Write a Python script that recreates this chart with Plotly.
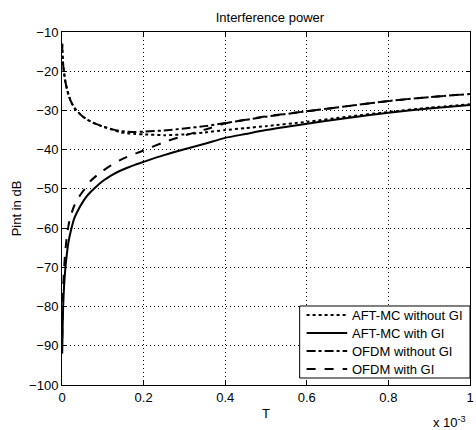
import plotly.graph_objects as go

T = [0.0005, 0.001, 0.002, 0.003, 0.005, 0.008, 0.012, 0.016, 0.021, 0.03, 0.04,
     0.05, 0.06, 0.07, 0.085, 0.1, 0.12, 0.14, 0.16, 0.18, 0.2, 0.25, 0.3, 0.35,
     0.4, 0.45, 0.5, 0.6, 0.7, 0.8, 0.9, 1.0]

aft_without_gi = [-13, -15, -17, -18.5, -20.3, -22.5, -24.5, -26, -27.5, -29.3, -30.5,
                  -31.5, -32.2, -32.8, -33.5, -34.1, -34.8, -35.5, -35.8, -36.0, -36.1, -36.3, -36.1, -35.6,
                  -35.0, -34.5, -34.0, -32.9, -31.6, -30.4, -29.3, -28.4]

aft_with_gi = [-92, -89, -83, -79.5, -75, -70.5, -66.5, -63.5, -61, -57.5, -55.3,
               -53.5, -52.0, -50.8, -49.3, -48.0, -46.6, -45.5, -44.6, -43.8, -43.1, -41.4, -39.9, -38.5,
               -37.0, -36.0, -35.0, -33.4, -31.9, -30.6, -29.5, -28.6]

ofdm_without_gi = [-13, -15, -17, -18.5, -20.3, -22.5, -24.5, -26, -27.5, -29.3, -30.5,
                   -31.5, -32.2, -32.8, -33.5, -34.1, -34.7, -35.2, -35.4, -35.5, -35.4, -35.1, -34.6, -34.0,
                   -33.2, -32.4, -31.6, -30.2, -28.9, -27.6, -26.6, -25.8]

ofdm_with_gi = [-88, -84.5, -78.5, -75, -70.5, -66, -62, -59.3, -57, -54.3, -52.3,
                -50.8, -49.4, -48.0, -46.6, -45.4, -44.0, -42.8, -41.8, -41.0, -40.2, -38.1, -36.4, -34.9,
                -33.3, -32.4, -31.5, -30.2, -28.9, -27.6, -26.6, -25.8]

series_names = ["AFT-MC without GI", "AFT-MC with GI", "OFDM without GI", "OFDM with GI"]
series_values = [aft_without_gi, aft_with_gi, ofdm_without_gi, ofdm_with_gi]
series_dashes = ["dot", "solid", "dashdot", "dash"]

x_ticks = [0, 0.2, 0.4, 0.6, 0.8, 1]
x_labels = ["0", "0.2", "0.4", "0.6", "0.8", "1"]
y_ticks = list(range(-100, 0, 10))

fig = go.Figure()
for name, vals, dash in zip(series_names, series_values, series_dashes):
    fig.add_trace(go.Scatter(
        x=T, y=vals, name=name, mode="lines", showlegend=False,
        line=dict(color="black", width=2, dash=dash, shape="spline", smoothing=0.6),
    ))

font = "Liberation Sans, Arial, sans-serif"
axis_common = dict(
    showline=True, linecolor="black", linewidth=1, mirror="ticks",
    ticks="inside", ticklen=4, tickcolor="black",
    showgrid=True, gridcolor="black", griddash="1px,3px", gridwidth=1,
    zeroline=False, tickfont=dict(size=13, color="black", family=font),
)

fig.update_layout(
    width=476, height=430,
    margin=dict(l=62, r=2, t=32, b=45),
    paper_bgcolor="white", plot_bgcolor="white",
    font=dict(family=font, size=13, color="black"),
    title=dict(text="Interference power", x=0.567, xanchor="center", y=0.96, yanchor="middle",
               font=dict(size=13, color="black", family=font)),
    xaxis=dict(range=[0, 1], tickvals=x_ticks, ticktext=x_labels, ticklabeloverflow="allow",
               title=dict(text="T", standoff=5, font=dict(size=13)), **axis_common),
    yaxis=dict(range=[-100, -10], tickvals=y_ticks,
               title=dict(text="Pint in dB", standoff=4, font=dict(size=13)), **axis_common),
    showlegend=False,
)

# Legend box (MATLAB style), drawn in paper coordinates
leg_x0, leg_x1, leg_y0, leg_y1 = 0.5825, 1.0, 0.0198, 0.2238
fig.add_shape(type="rect", xref="paper", yref="paper",
              x0=leg_x0, x1=leg_x1, y0=leg_y0, y1=leg_y1,
              line=dict(color="black", width=1), fillcolor="white", layer="above")
row_h = (leg_y1 - leg_y0) / 4
for i, (name, dash) in enumerate(zip(series_names, series_dashes)):
    yc = leg_y1 - row_h * (i + 0.5)
    fig.add_shape(type="line", xref="paper", yref="paper",
                  x0=0.5995, x1=0.699, y0=yc, y1=yc,
                  line=dict(color="black", width=2, dash=dash), layer="above")
    fig.add_annotation(text=name, xref="paper", yref="paper", x=0.7063, y=yc,
                       xanchor="left", yanchor="middle", showarrow=False,
                       font=dict(size=13, color="black", family=font))

fig.add_annotation(text="x 10<sup>-3</sup>", xref="paper", yref="paper",
                   x=0.995, y=-0.105, xanchor="right", yanchor="middle", showarrow=False,
                   font=dict(size=13, color="black", family=font))

fig.write_html("out.html", config={"displayModeBar": False},
               post_script="document.body.style.margin='0';document.body.style.overflow='hidden';")
